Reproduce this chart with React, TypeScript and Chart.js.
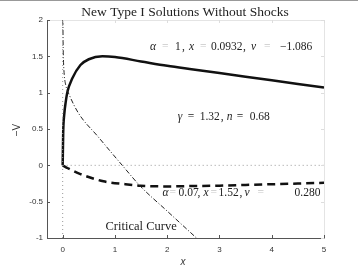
import React, { useEffect, useRef } from "react";
import { Chart, registerables } from "chart.js";

Chart.register(...registerables);

const TITLE = "New Type I Solutions Without Shocks";
const X_TICKS = [0, 1, 2, 3, 4, 5];
const Y_TICKS = [-1, -0.5, 0, 0.5, 1, 1.5, 2];

const solidX = [0, 0.01, 0.03, 0.06, 0.09, 0.18, 0.34, 0.5, 0.76, 1.0, 1.5, 2.0, 2.5, 3.0, 3.5, 4.0, 4.5, 5.0];
const solidY = [0, 0.45, 0.7, 0.88, 1.01, 1.19, 1.38, 1.46, 1.5, 1.49, 1.43, 1.37, 1.32, 1.27, 1.22, 1.17, 1.12, 1.07];

const dashedX = [0, 0.1, 0.34, 0.78, 1.2, 1.49, 2.0, 2.5, 3.0, 3.5, 4.0, 4.5, 5.0];
const dashedY = [0, -0.04, -0.12, -0.22, -0.26, -0.28, -0.29, -0.285, -0.28, -0.27, -0.26, -0.25, -0.24];

const critX = [0.004, 0.008, 0.015, 0.03, 0.06, 0.12, 0.3, 0.67, 1.14, 1.49, 2.0, 2.56];
const critY = [2.0, 1.7, 1.45, 1.25, 1.1, 0.98, 0.72, 0.4, 0.0, -0.29, -0.63, -1.0];

const zeroLineX = [0, 5];
const zeroLineY = [0, 0];
const vertLineX = [0, 0];
const vertLineY = [-1, 2];

const pts = (xs: number[], ys: number[]) => xs.map((x, i) => ({ x, y: ys[i] }));

// [text, italic, offset from annotation start (px), faint]
type Tok = [string, boolean, number, boolean?];

const ANNO1: Tok[] = [["α", true, 0], ["=", false, 12, true], ["1", false, 25], [",", false, 32], ["x", true, 39], ["=", false, 50, true], ["0.0932", false, 61], [",", false, 93], ["v", true, 101], ["=", false, 114, true], ["−1.086", false, 130]];
const ANNO2: Tok[] = [["γ", true, 0], ["=", false, 10], ["1.32", false, 22], [",", false, 43], ["n", true, 49], ["=", false, 59], ["0.68", false, 72]];
const ANNO3: Tok[] = [["α", true, 0], ["=", false, 7, true], ["0.07", false, 16], [",", false, 35], ["x", true, 41], ["=", false, 48, true], ["1.52", false, 56], [",", false, 77], ["v", true, 82], ["=", false, 95, true], ["0.280", false, 132]];
const CRIT_LABEL = "Critical Curve";

const SERIF = '"Liberation Serif", "DejaVu Serif", serif';
const SANS = '"Liberation Sans", Arial, sans-serif';

function drawToks(ctx: CanvasRenderingContext2D, toks: Tok[], x: number, y: number, size: number) {
  ctx.textBaseline = "alphabetic";
  ctx.textAlign = "left";
  for (const [t, it, off, faint] of toks) {
    ctx.font = `${it ? "italic " : ""}${size}px ${SERIF}`;
    ctx.fillStyle = faint ? "#c8c8c8" : "#222";
    ctx.fillText(t, x + off, y);
  }
}

const decorPlugin = {
  id: "decor",
  beforeDatasetsDraw(chart: any) {
    const { ctx, chartArea: a } = chart;
    ctx.save();
    ctx.strokeStyle = "#e4e4e4";
    ctx.lineWidth = 1;
    ctx.beginPath();
    ctx.moveTo(a.left, a.top + 0.5);
    ctx.lineTo(a.right + 0.5, a.top + 0.5);
    ctx.lineTo(a.right + 0.5, a.bottom);
    ctx.stroke();
    ctx.restore();
  },
  afterDatasetsDraw(chart: any) {
    const { ctx, chartArea: a, scales } = chart;
    const xs = scales.x;
    const ys = scales.y;
    ctx.save();
    ctx.strokeStyle = "#999";
    ctx.lineWidth = 1;
    ctx.beginPath();
    ctx.moveTo(0, 0.5);
    ctx.lineTo(358, 0.5);
    ctx.stroke();
    ctx.strokeStyle = "#555";
    ctx.beginPath();
    ctx.moveTo(a.left + 0.5, a.top);
    ctx.lineTo(a.left + 0.5, a.bottom + 0.5);
    ctx.lineTo(a.right + 0.5, a.bottom + 0.5);
    ctx.stroke();
    ctx.beginPath();
    for (const v of X_TICKS) {
      const px = Math.round(xs.getPixelForValue(v)) + 0.5;
      ctx.moveTo(px, a.bottom);
      ctx.lineTo(px, a.bottom - 3);
    }
    for (const v of Y_TICKS) {
      const py = Math.round(ys.getPixelForValue(v)) + 0.5;
      ctx.moveTo(a.left, py);
      ctx.lineTo(a.left + 3, py);
    }
    ctx.stroke();
    ctx.strokeStyle = "#ddd";
    ctx.beginPath();
    for (const v of X_TICKS) {
      const px = Math.round(xs.getPixelForValue(v)) + 0.5;
      ctx.moveTo(px, a.top);
      ctx.lineTo(px, a.top + 3);
    }
    for (const v of Y_TICKS) {
      const py = Math.round(ys.getPixelForValue(v)) + 0.5;
      ctx.moveTo(a.right, py);
      ctx.lineTo(a.right - 3, py);
    }
    ctx.stroke();

    ctx.fillStyle = "#222";
    ctx.font = `13.5px ${SERIF}`;
    ctx.textAlign = "center";
    ctx.textBaseline = "alphabetic";
    ctx.fillText(TITLE, 185, 16);

    ctx.font = `italic 10px ${SANS}`;
    ctx.fillStyle = "#333";
    ctx.textBaseline = "middle";
    ctx.fillText("x", xs.getPixelForValue(2.3), 262);
    ctx.save();
    ctx.translate(17, 130);
    ctx.rotate(-Math.PI / 2);
    ctx.font = `10px ${SANS}`;
    ctx.fillText("−V", 0, 0);
    ctx.restore();

    drawToks(ctx, ANNO1, xs.getPixelForValue(1.67), ys.getPixelForValue(1.59), 11.5);
    drawToks(ctx, ANNO2, xs.getPixelForValue(2.2), ys.getPixelForValue(0.62), 11.5);
    drawToks(ctx, ANNO3, xs.getPixelForValue(1.91), ys.getPixelForValue(-0.42), 11.5);
    ctx.font = `12.5px ${SERIF}`;
    ctx.fillStyle = "#222";
    ctx.textAlign = "left";
    ctx.textBaseline = "alphabetic";
    ctx.fillText(CRIT_LABEL, xs.getPixelForValue(0.82), ys.getPixelForValue(-0.89));
    ctx.restore();
  },
};

export default function App() {
  const ref = useRef<HTMLCanvasElement | null>(null);
  useEffect(() => {
    if (!ref.current) return;
    const chart = new Chart(ref.current, {
      type: "scatter",
      data: {
        datasets: [
          { data: pts(zeroLineX, zeroLineY), showLine: true, borderColor: "#999", borderWidth: 1, borderDash: [1, 3], pointRadius: 0 },
          { data: pts(vertLineX, vertLineY), showLine: true, borderColor: "#999", borderWidth: 1, borderDash: [1, 3], pointRadius: 0 },
          { data: pts(critX, critY), showLine: true, borderColor: "#222", borderWidth: 1, borderDash: [5, 2, 1, 2], pointRadius: 0, cubicInterpolationMode: "monotone" },
          { data: pts(dashedX, dashedY), showLine: true, borderColor: "#111", borderWidth: 2.5, borderDash: [8, 5], pointRadius: 0, cubicInterpolationMode: "monotone" },
          { data: pts(solidX, solidY), showLine: true, borderColor: "#111", borderWidth: 2.5, pointRadius: 0, cubicInterpolationMode: "monotone" },
        ] as any,
      },
      options: {
        animation: false,
        responsive: false,
        devicePixelRatio: 1,
        layout: { padding: { top: 20, right: 34, left: 0, bottom: 0 } },
        plugins: { legend: { display: false }, tooltip: { enabled: false }, title: { display: false } },
        scales: {
          x: {
            type: "linear",
            min: -0.3,
            max: 5,
            grid: { display: false, drawTicks: false },
            border: { display: false },
            afterBuildTicks: (s: any) => { s.ticks = X_TICKS.map((v) => ({ value: v })); },
            afterFit: (s: any) => { s.height = 32; },
            ticks: { padding: 7, color: "#333", font: { family: SANS, size: 8 }, maxRotation: 0, callback: (v: any) => String(v) },
          },
          y: {
            type: "linear",
            min: -1,
            max: 2,
            grid: { display: false, drawTicks: false },
            border: { display: false },
            afterBuildTicks: (s: any) => { s.ticks = Y_TICKS.map((v) => ({ value: v })); },
            afterFit: (s: any) => { s.width = 47; },
            ticks: { padding: 4, color: "#333", font: { family: SANS, size: 8 }, callback: (v: any) => String(v) },
          },
        },
      },
      plugins: [decorPlugin],
    });
    return () => chart.destroy();
  }, []);
  return (
    <div style={{ position: "absolute", left: 0, top: 0, width: 358, height: 270, background: "#fff" }}>
      <canvas ref={ref} width={358} height={270} style={{ display: "block" }} />
    </div>
  );
}
